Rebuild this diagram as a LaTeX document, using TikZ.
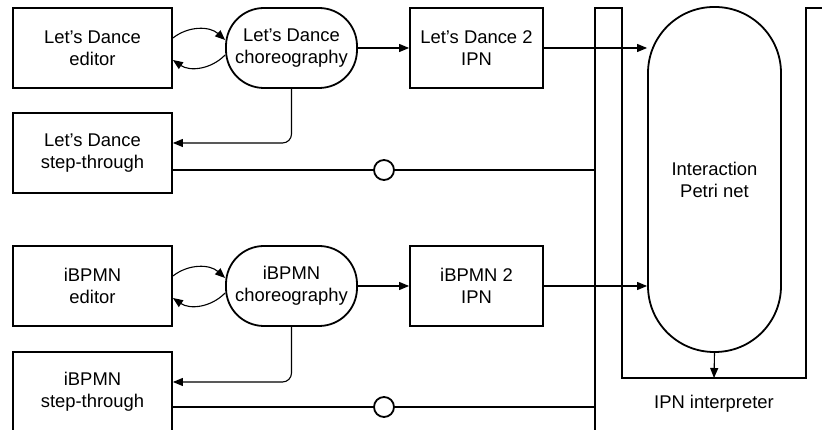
\documentclass[tikz,border=0pt]{standalone}
\usepackage{fontspec}
\setmainfont{Liberation Sans}
\usetikzlibrary{arrows.meta}
\tikzset{
  box/.style={draw, line width=1.8pt, minimum width=159pt, minimum height=80pt, align=center, inner sep=0pt},
  smallbox/.style={box, minimum width=133pt},
  stadium/.style={draw, line width=1.8pt, rounded corners=38pt, minimum width=131pt, minimum height=80pt, align=center, inner sep=0pt},
  petri/.style={draw, line width=1.8pt, rounded corners=66pt, minimum width=133pt, minimum height=345pt, align=center, inner sep=0pt},
  conn/.style={line width=1.1pt, -{Triangle[length=10pt,width=8pt]}},
  plain/.style={line width=1.1pt},
  port/.style={draw, circle, line width=1.8pt, fill=white, minimum size=20pt, inner sep=0pt},
  frame/.style={line width=1.8pt}
}
\begin{document}
\begin{tikzpicture}[x=1pt, y=1pt, font=\fontsize{18.4}{22}\selectfont]
\useasboundingbox (0,0) rectangle (822,430);
\clip (0,0) rectangle (822,430);

% container (IPN interpreter)
\draw[frame] (595,-10) -- (595,422) -- (622,422) -- (622,52) -- (806,52) -- (806,422) -- (840,422);
\coordinate (bar1) at (595,260);
\coordinate (bar2) at (595,23);
\coordinate (floor) at (714,52);

% nodes
\node[box] (ed1) at (92.5,382) {Let’s Dance\\editor};
\node[stadium] (ch1) at (291.5,382) {Let’s Dance\\choreography};
\node[smallbox] (ip1) at (476.5,382) {Let’s Dance 2\\IPN};
\node[box] (st1) at (92.5,277) {Let’s Dance\\step-through};

\node[box] (ed2) at (92.5,144) {iBPMN\\editor};
\node[stadium] (ch2) at (291.5,144) {iBPMN\\choreography};
\node[smallbox] (ip2) at (476.5,144) {iBPMN 2\\IPN};
\node[box] (st2) at (92.5,38) {iBPMN\\step-through};

\node[petri] (pn) at (714.5,250.5) {Interaction\\Petri net};
\node (lbl) at (714,26) {IPN interpreter};

% connectors, upper
\draw[conn] ([yshift=10pt]ed1.east) to[bend left=40] ([yshift=8pt]ch1.west);
\draw[conn] ([yshift=-7pt]ch1.west) to[bend left=40] ([yshift=-12pt]ed1.east);
\draw[conn] (ch1.east) -- (ip1.west);
\draw[conn, rounded corners=9pt] (ch1.south) |- ([yshift=10pt]st1.east);
\draw[conn] (ip1.east) -- (pn.west |- ip1.east);
\node[port] (c1) at (384,260) {};
\draw[plain] ([yshift=-17pt]st1.east) -- (c1.west);
\draw[plain] (c1.east) -- (bar1);

% connectors, lower
\draw[conn] ([yshift=10pt]ed2.east) to[bend left=40] ([yshift=8pt]ch2.west);
\draw[conn] ([yshift=-7pt]ch2.west) to[bend left=40] ([yshift=-12pt]ed2.east);
\draw[conn] (ch2.east) -- (ip2.west);
\draw[conn, rounded corners=9pt] (ch2.south) |- ([yshift=10pt]st2.east);
\draw[conn] (ip2.east) -- (pn.west |- ip2.east);
\node[port] (c2) at (384,23) {};
\draw[plain] ([yshift=-15pt]st2.east) -- (c2.west);
\draw[plain] (c2.east) -- (bar2);

\draw[conn] (pn.south) -- (floor);
\end{tikzpicture}
\end{document}
